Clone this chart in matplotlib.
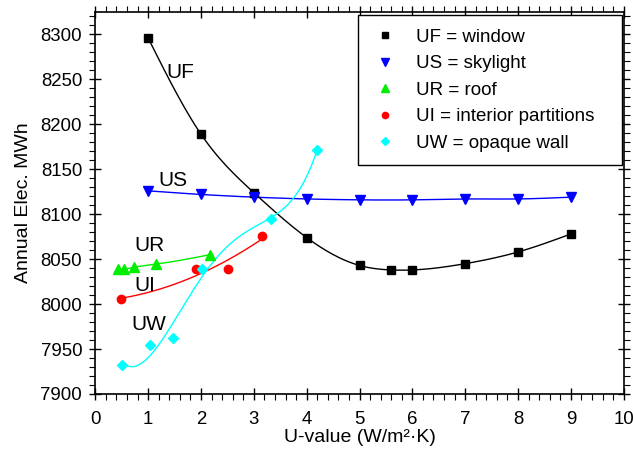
import matplotlib.pyplot as plt
import numpy as np
from matplotlib.ticker import MultipleLocator

plt.rcParams.update({
    "font.family": ["Liberation Sans", "DejaVu Sans"],
    "font.size": 13.4,
})

# Data
uf_x = [1, 2, 3, 4, 5, 5.6, 6, 7, 8, 9]
uf_y = [8296, 8189, 8124, 8074, 8043, 8038, 8038, 8045, 8058, 8078]

us_x = [1, 2, 3, 4, 5, 6, 7, 8, 9]
us_y = [8126, 8122, 8119, 8117, 8116, 8116, 8117, 8117, 8119]

ur_x = [0.42, 0.54, 0.74, 1.15, 2.17]
ur_y = [8039, 8039, 8041, 8044.5, 8055]

ui_x = [0.49, 1.90, 2.51, 3.15]
ui_y = [8005.5, 8039, 8039, 8076]

uw_x = [0.51, 1.03, 1.47, 2.02, 3.32, 4.20]
uw_y = [7932, 7954.5, 7962, 8039, 8094.5, 8172]


def natural_spline(x, y, n=200):
    x = np.asarray(x, float)
    y = np.asarray(y, float)
    k = len(x)
    h = np.diff(x)
    A = np.zeros((k, k))
    b = np.zeros(k)
    A[0, 0] = A[-1, -1] = 1
    for i in range(1, k - 1):
        A[i, i - 1] = h[i - 1]
        A[i, i] = 2 * (h[i - 1] + h[i])
        A[i, i + 1] = h[i]
        b[i] = 6 * ((y[i + 1] - y[i]) / h[i] - (y[i] - y[i - 1]) / h[i - 1])
    M = np.linalg.solve(A, b)
    xs = np.linspace(x[0], x[-1], n)
    idx = np.clip(np.searchsorted(x, xs) - 1, 0, k - 2)
    x0, x1 = x[idx], x[idx + 1]
    hh = x1 - x0
    t0, t1 = x1 - xs, xs - x0
    ys = (M[idx] * t0**3 + M[idx + 1] * t1**3) / (6 * hh) \
        + (y[idx] / hh - M[idx] * hh / 6) * t0 \
        + (y[idx + 1] / hh - M[idx + 1] * hh / 6) * t1
    return xs, ys


def poly_curve(x, y, deg, n=200):
    c = np.polyfit(x, y, deg)
    xs = np.linspace(min(x), max(x), n)
    return xs, np.polyval(c, xs)


fig = plt.figure(figsize=(6.33, 4.51), dpi=100)
ax = fig.add_axes([0.1506, 0.1264, 0.8347, 0.847])

series = [
    (uf_x, uf_y, "black", "s", 5.5, "UF = window", natural_spline(uf_x, uf_y)),
    (us_x, us_y, "#0000ff", "v", 7, "US = skylight", natural_spline(us_x, us_y)),
    (ur_x, ur_y, "#00ee00", "^", 7, "UR = roof", natural_spline(ur_x, ur_y)),
    (ui_x, ui_y, "#ff0000", "o", 6, "UI = interior partitions", poly_curve(ui_x, ui_y, 2)),
    (uw_x, uw_y, "#00ffff", "D", 5.5, "UW = opaque wall", poly_curve(uw_x, uw_y, 4)),
]

for x, y, c, m, ms, lab, (cx, cy) in series:
    ax.plot(cx, cy, color=c, lw=1.0, zorder=2)
    ax.plot(x, y, ls="none", marker=m, ms=ms, color=c, mec=c, label=lab, zorder=3)

ax.text(1.35, 8258, "UF", fontsize=15, va="center")
ax.text(1.2, 8138, "US", fontsize=15, va="center")
ax.text(0.73, 8065, "UR", fontsize=15, va="center")
ax.text(0.73, 8021, "UI", fontsize=15, va="center")
ax.text(0.69, 7977, "UW", fontsize=15, va="center")

ax.set_xlim(0, 10)
ax.set_ylim(7900, 8325)
ax.xaxis.set_major_locator(MultipleLocator(1))
ax.xaxis.set_minor_locator(MultipleLocator(0.2))
ax.yaxis.set_major_locator(MultipleLocator(50))
ax.yaxis.set_minor_locator(MultipleLocator(10))
ax.tick_params(which="major", direction="inout", length=9, width=1,
               top=True, right=True, labeltop=False, labelright=False)
ax.tick_params(which="minor", direction="out", length=4, width=0.8,
               top=True, right=True)
ax.tick_params(axis="x", which="major", pad=7.5)
ax.tick_params(axis="y", which="major", pad=5)
for s in ax.spines.values():
    s.set_linewidth(1.2)

ax.set_xlabel("U-value (W/m²·K)", fontsize=14, labelpad=1)
ax.set_ylabel("Annual Elec. MWh", fontsize=14, labelpad=6)

leg = ax.legend(loc="upper left", bbox_to_anchor=(0.497, 0.5, 0.4998, 0.4922),
                mode="expand", borderaxespad=0, fontsize=13.5,
                frameon=True, fancybox=False, edgecolor="black", framealpha=1,
                markerscale=0.75, handlelength=1.5, handletextpad=0.9,
                labelspacing=0.5, borderpad=0.72)
leg.get_frame().set_linewidth(1.0)

fig.savefig("out.png", dpi=100)
